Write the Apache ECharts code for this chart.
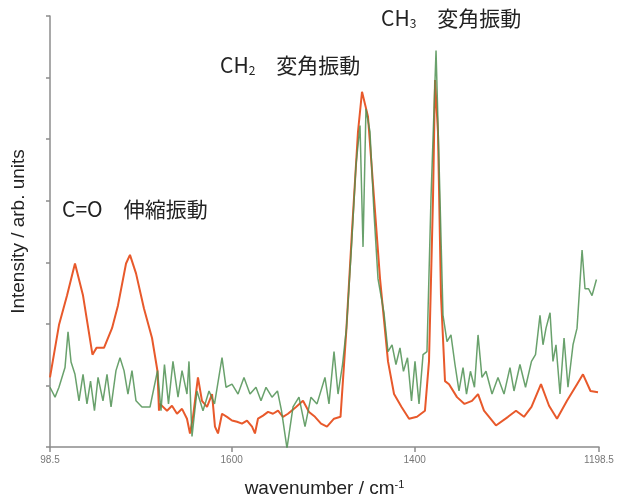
<!DOCTYPE html>
<html>
<head>
<meta charset="utf-8">
<script src="https://cdn.jsdelivr.net/npm/echarts@6/dist/echarts.min.js"></script>
<style>html,body{margin:0;padding:0;background:#fff}#c{width:617px;height:503px}</style>
</head>
<body>
<div id="c"></div>
<script>
// wavenumber axis ticks and their labels as printed in the picture
var xTickValues = [1798.5, 1600, 1400, 1198.5];
var xTickLabels = ['98.5', '1600', '1400', '1198.5'];

// orange (red) spectrum
var orangeWn = [1798.5,1788.7,1779.9,1771.2,1762.4,1752.1,1747.7,1739.5,1730.7,1724.2,1715.4,1711.1,1704.5,1695.8,1687.0,1681.0,1679.4,1678.3,1670.6,1665.2,1659.7,1654.2,1648.8,1645.5,1642.2,1636.8,1632.4,1626.9,1621.4,1618.2,1614.9,1610.5,1605.1,1599.6,1594.1,1588.7,1583.2,1577.7,1574.5,1571.2,1565.7,1560.2,1554.8,1549.3,1543.9,1538.4,1529.6,1522.0,1515.4,1508.9,1502.3,1495.8,1488.1,1481.0,1474.5,1468.4,1461.9,1457.5,1451.0,1444.4,1437.8,1429.1,1422.5,1414.3,1406.1,1397.4,1388.7,1384.3,1379.9,1377.7,1374.5,1371.2,1366.8,1362.4,1353.7,1345.5,1337.3,1330.7,1324.2,1311.1,1297.9,1289.2,1280.5,1272.3,1261.9,1253.1,1244.4,1233.5,1222.5,1216.0,1207.8,1199.6];
var orangeVal = [1.13,1.98,2.46,2.98,2.46,1.50,1.61,1.61,1.93,2.30,2.98,3.12,2.82,2.25,1.77,1.23,0.59,0.70,0.59,0.67,0.54,0.62,0.46,0.22,0.49,1.13,0.75,0.65,0.86,0.33,0.22,0.54,0.49,0.43,0.41,0.38,0.43,0.33,0.22,0.46,0.51,0.57,0.54,0.59,0.49,0.54,0.65,0.75,0.57,0.49,0.38,0.33,0.46,0.49,1.93,3.52,5.12,5.77,5.37,4.05,2.73,1.39,0.86,0.65,0.46,0.49,0.59,1.39,4.05,5.96,5.12,2.46,1.07,1.02,0.81,0.70,0.75,0.86,0.59,0.35,0.49,0.59,0.49,0.65,1.02,0.67,0.46,0.75,1.02,1.18,0.91,0.89];

// green spectrum
var greenWn = [1798.5,1793.0,1788.7,1782.1,1778.8,1775.5,1771.2,1766.8,1762.4,1758.1,1754.2,1749.9,1746.0,1740.6,1736.2,1731.8,1726.4,1722.0,1717.6,1713.3,1708.9,1704.5,1698.0,1689.2,1681.0,1677.2,1673.4,1669.0,1664.1,1658.6,1654.2,1648.8,1646.6,1643.3,1637.9,1631.3,1624.7,1618.7,1610.5,1606.1,1599.6,1593.0,1586.5,1579.9,1573.4,1567.9,1562.4,1555.9,1549.9,1545.5,1539.5,1532.9,1526.4,1519.8,1513.3,1506.7,1498.0,1493.6,1488.1,1483.7,1478.8,1474.5,1469.0,1464.1,1459.7,1456.4,1453.2,1448.8,1444.4,1440.0,1433.5,1429.1,1424.7,1420.4,1416.0,1412.2,1407.8,1403.4,1399.6,1395.2,1390.8,1386.5,1382.1,1376.6,1372.3,1369.0,1364.6,1360.3,1355.9,1351.5,1347.1,1343.3,1339.0,1334.6,1330.7,1326.4,1322.0,1315.4,1308.9,1302.3,1295.8,1291.4,1284.9,1278.8,1272.3,1267.9,1263.0,1259.7,1256.4,1252.0,1248.8,1245.5,1241.1,1236.7,1232.4,1226.9,1222.5,1217.0,1213.8,1209.9,1206.1,1201.3];
var greenVal = [0.97,0.81,0.97,1.29,1.87,1.38,1.18,0.75,1.18,0.70,1.07,0.59,1.13,0.75,1.18,0.65,1.24,1.45,1.24,0.86,1.24,0.75,0.65,0.65,1.24,0.59,1.34,0.70,1.39,0.81,1.24,0.86,1.39,0.17,0.91,0.59,0.91,0.70,1.45,0.97,1.02,0.86,1.13,0.86,0.97,0.75,0.97,0.81,0.91,0.59,-0.02,0.65,0.81,0.33,0.81,0.70,1.13,0.70,1.55,0.86,1.34,1.93,3.25,4.58,5.22,3.25,5.49,5.12,3.80,2.73,2.18,1.55,1.66,1.34,1.61,1.23,1.45,0.75,1.39,0.70,1.50,1.55,4.05,6.44,4.05,2.14,1.71,1.82,1.34,0.91,1.29,0.86,1.23,0.97,1.82,1.13,1.23,0.86,1.13,0.86,1.29,0.91,1.34,0.97,1.39,1.50,2.14,1.66,1.93,2.18,1.39,1.66,0.86,1.77,0.97,1.66,1.93,3.20,2.57,2.57,2.46,2.72];

function pairs(xs, ys) { return xs.map(function (x, i) { return [x, ys[i]]; }); }

var chart = echarts.init(document.getElementById('c'));
var jp = '"Noto Sans CJK JP", "Noto Sans", sans-serif';
var lat = '"Liberation Sans", Arial, sans-serif';
chart.setOption({
  animation: false,
  backgroundColor: '#fff',
  grid: { left: 50, right: 18, top: 16, bottom: 47 },
  xAxis: {
    type: 'value', inverse: true, min: 1198.5, max: 1798.5,
    name: 'wavenumber / cm{sup|-1}', nameLocation: 'middle', nameGap: 32,
    nameTextStyle: { color: '#222', fontSize: 19, fontFamily: lat,
      rich: { sup: { fontSize: 11, verticalAlign: 'top', lineHeight: 16, color: '#222', fontFamily: lat } } },
    splitLine: { show: false },
    axisLine: { lineStyle: { color: '#8c8c8c', width: 1.5 } },
    axisTick: { customValues: xTickValues, length: 5, lineStyle: { color: '#8c8c8c', width: 1.5 } },
    axisLabel: { customValues: xTickValues, color: '#777', fontSize: 10, margin: 8,
      formatter: function (v) { var i = xTickValues.indexOf(v); return i >= 0 ? xTickLabels[i] : ''; } }
  },
  yAxis: {
    type: 'value', min: 0, max: 7, interval: 1,
    name: 'Intensity / arb. units', nameLocation: 'middle', nameGap: 22,
    nameTextStyle: { color: '#222', fontSize: 19, fontFamily: lat },
    splitLine: { show: false },
    axisLine: { show: true, lineStyle: { color: '#8c8c8c', width: 1.5 } },
    axisTick: { show: true, length: 4, lineStyle: { color: '#8c8c8c', width: 1.5 } },
    axisLabel: { show: false }
  },
  series: [
    { type: 'line', data: pairs(orangeWn, orangeVal), showSymbol: false, symbol: 'none',
      lineStyle: { color: '#e8592b', width: 2 }, z: 2 },
    { type: 'line', data: pairs(greenWn, greenVal), showSymbol: false, symbol: 'none',
      lineStyle: { color: '#4f9152', width: 1.5, opacity: 0.85 }, z: 3 }
  ],
  graphic: [
    { type: 'text', left: 62, top: 199, style: { text: 'C=O　伸縮振動', fill: '#222', font: '21px ' + jp } },
    { type: 'text', left: 220, top: 55, style: { text: 'CH{s|2}　変角振動', fill: '#222', font: '21px ' + jp,
      rich: { s: { fontSize: 12, verticalAlign: 'bottom', lineHeight: 15, fill: '#222', fontFamily: jp } } } },
    { type: 'text', left: 381, top: 8, style: { text: 'CH{s|3}　変角振動', fill: '#222', font: '21px ' + jp,
      rich: { s: { fontSize: 12, verticalAlign: 'bottom', lineHeight: 15, fill: '#222', fontFamily: jp } } } }
  ]
});
</script>
</body>
</html>
